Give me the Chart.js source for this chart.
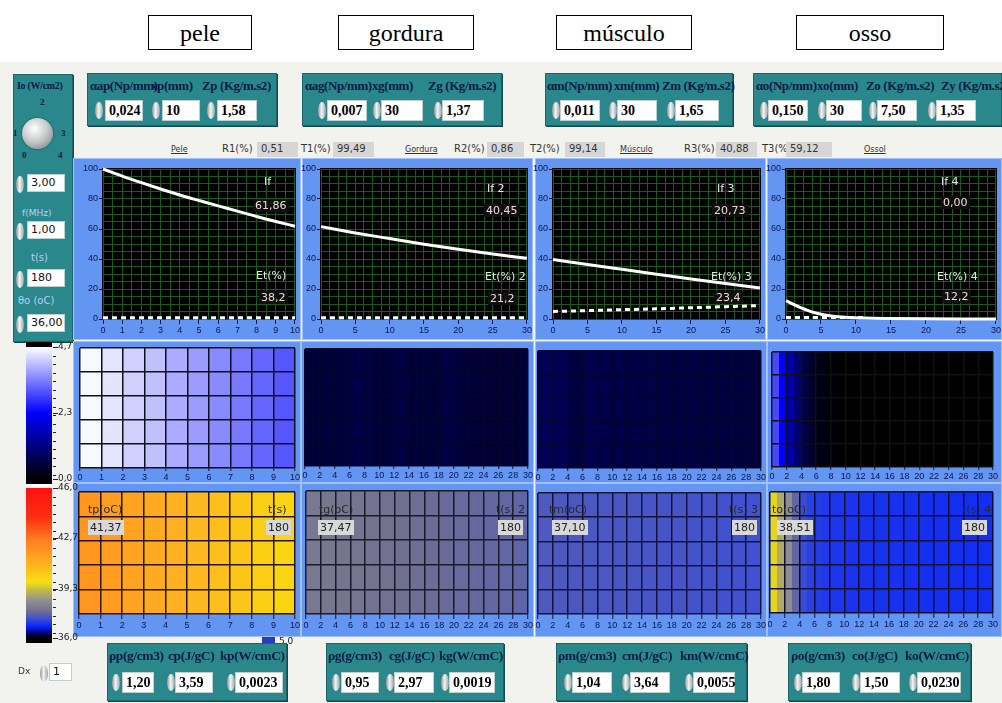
<!DOCTYPE html>
<html lang="pt">
<head>
<meta charset="utf-8">
<title>Ultrassom em camadas</title>
<script src="https://cdn.jsdelivr.net/npm/chart.js@4.4.1/dist/chart.umd.min.js"></script>
<style>
  body { margin: 0; background: #fff; }
  #painel { position: relative; width: 1002px; height: 703px; overflow: hidden; font-family: "DejaVu Sans", sans-serif; }
  #painel > * { position: absolute; }
  .titulo { top: 15px; height: 34px; border: 1px solid #000; background: #fff; font: 24px "Liberation Serif", serif; text-align: center; line-height: 34px; box-sizing: border-box; }
  .teal { background: #2a888d; border: 1px solid #1b6468; box-shadow: 1px 1px 0 #0f4a4d; box-sizing: border-box; }
  .rot { font: bold 13px "Liberation Serif", serif; color: #0b1a45; white-space: nowrap; letter-spacing: -0.4px; }
  .num { background: #fff; border: 1px solid #bcd0d0; font: bold 14px "Liberation Serif", serif; color: #000; padding-left: 3px; box-sizing: border-box; line-height: 19px; height: 21px; }
  .numS { background: #fff; border: 1px solid #bcd0d0; font: 11px "DejaVu Sans", sans-serif; color: #111; padding-left: 3px; box-sizing: border-box; line-height: 16px; height: 18px; }
  .spin { width: 8px; height: 17px; border-radius: 50%; background: linear-gradient(90deg, #8e9696, #f2f4f4 45%, #9aa2a2); }
  .quadro { background: #6396f2; box-sizing: border-box; border: 1px solid #a3c0fa; }
  .txtG { font: 11px "DejaVu Sans", sans-serif; color: #e6e6e6; white-space: nowrap; }
  .valG { font: 11px "DejaVu Sans", sans-serif; color: #f0dada; background: #101010; padding: 0 2px; white-space: nowrap; }
  .txtT { font: 11px "DejaVu Sans", sans-serif; color: #2a2a2a; white-space: nowrap; }
  .valT { font: 11px "DejaVu Sans", sans-serif; color: #222; background: #d8d8d8; padding: 1px 2px; white-space: nowrap; }
  .linha { font: 10px "DejaVu Sans", sans-serif; color: #333; white-space: nowrap; }
  .caixa { font: 10px "DejaVu Sans", sans-serif; color: #333; background: #d6d6d6; height: 14px; line-height: 14px; padding-left: 4px; box-sizing: border-box; }
  .sub { font: 8px "DejaVu Sans", sans-serif; color: #333; text-decoration: underline; }
  .esc { font: 9px "DejaVu Sans", sans-serif; color: #222; }
</style>
</head>
<body>
<div id="painel"></div>
<script>
// ---------- valores ----------
// curvas If (linha cheia) e Et (tracejada), em %
const xPele = [0, 1, 2, 3, 4, 5, 6, 7, 8, 9, 10];
const ifPele = [100, 95.3, 90.9, 86.7, 82.7, 79, 75.4, 71.9, 68.3, 65, 61.86];
const etPele = [0.8, 0.8, 0.8, 0.8, 0.8, 0.8, 0.8, 0.8, 0.8, 0.8, 0.8];

const xCamada = [0, 5, 10, 15, 20, 25, 30];
const ifGordura = [61.6, 57.4, 53.6, 49.9, 46.5, 43.3, 40.45];
const etGordura = [0.8, 0.8, 0.8, 0.8, 0.8, 0.8, 0.8];
const ifMusculo = [39.7, 36.3, 33.1, 29.9, 26.7, 23.7, 20.73];
const etMusculo = [5, 5.6, 6.2, 6.8, 7.5, 8.2, 9];

const xOsso = [0, 1, 2, 3, 4, 5, 6, 7, 8, 9, 10, 11, 15, 20, 25, 30];
const ifOsso = [12.2, 9.9, 7.8, 5.9, 4.3, 3.2, 2.3, 1.7, 1.3, 1, 0.8, 0.6, 0.3, 0.1, 0, 0];
const etOsso = [1, 1, 1, 1, 1, 1, 1, 1, 1, 1, 1, 1, null, null, null, null];

// intensidade (W/cm2) por coluna dos mapas do meio
const intPele = [4.64, 4.45, 4.27, 4.12, 3.93, 3.79, 3.62, 3.46, 3.28, 3.14];
const intGordura = [0.52, 0.5, 0.52, 0.54, 0.52, 0.54, 0.64, 0.66, 0.62, 0.52, 0.5, 0.52, 0.6, 0.62, 0.52,
                    0.5, 0.52, 0.5, 0.6, 0.62, 0.58, 0.52, 0.5, 0.48, 0.5, 0.48, 0.47, 0.48, 0.46, 0.47];
const intMusculo = [0.8, 0.8, 0.78, 0.76, 0.6, 0.56, 0.7, 0.7, 0.68, 0.68, 0.66, 0.66, 0.65, 0.65, 0.64,
                    0.64, 0.63, 0.6, 0.58, 0.63, 0.62, 0.6, 0.59, 0.59, 0.58, 0.58, 0.56, 0.56, 0.55, 0.55];
const intOsso = [3.0, 2.35, 1.6, 1.05, 0.65, 0.4, 0.22, 0.12, 0.06, 0.03, 0.02, 0.01, 0, 0, 0,
                 0, 0, 0, 0, 0, 0, 0, 0, 0, 0, 0, 0, 0, 0, 0];

// temperatura (oC) por coluna dos mapas de baixo
const tempPele = [41.8, 41.6, 41.4, 41.2, 41.0, 40.8, 40.6, 40.4, 40.2, 40.0];
const tempGordura = [37.98, 37.97, 37.96, 37.95, 37.94, 37.92, 37.91, 37.9, 37.88, 37.87, 37.85, 37.84, 37.82, 37.81, 37.79,
                     37.78, 37.76, 37.75, 37.74, 37.72, 37.71, 37.7, 37.69, 37.68, 37.67, 37.66, 37.65, 37.64, 37.63, 37.62];
const tempMusculo = [37.45, 37.45, 37.44, 37.44, 37.43, 37.43, 37.42, 37.42, 37.41, 37.41, 37.4, 37.4, 37.39, 37.39, 37.38,
                     37.38, 37.37, 37.37, 37.36, 37.36, 37.35, 37.35, 37.34, 37.34, 37.33, 37.33, 37.32, 37.32, 37.31, 37.3];
const tempOsso = [39.55, 38.95, 38.45, 37.65, 37.25, 37.1, 37.05, 37.0, 36.98, 36.96, 36.95, 36.94, 36.93, 36.93, 36.92,
                  36.92, 36.91, 36.91, 36.9, 36.9, 36.9, 36.89, 36.89, 36.89, 36.88, 36.88, 36.88, 36.87, 36.87, 36.87];

// rótulos das barras de cor
const escalaInt = [[4.7, '4,7'], [2.35, '2,3'], [0, '0,0']];
const escalaTemp = [[46, '46,0'], [42.7, '42,7'], [39.3, '39,3'], [36, '36,0']];

// ---------- mapas de cor ----------
const paradasInt = [[0, '#000000'], [2.35, '#0000ff'], [4.7, '#ffffff']];
const paradasTemp = [[36, '#000000'], [36.3, '#000060'], [36.7, '#0020ff'], [37.3, '#4050d0'], [37.8, '#707090'],
                     [38.5, '#909090'], [39.3, '#c8c040'], [39.7, '#f8e010'], [41, '#ffb020'], [42.5, '#ff8020'],
                     [44, '#ff3010'], [46, '#ff1010']];

function hexRgb(h) {
    return [parseInt(h.slice(1, 3), 16), parseInt(h.slice(3, 5), 16), parseInt(h.slice(5, 7), 16)];
}

function corMapa(paradas, v) {
    if (v <= paradas[0][0]) return paradas[0][1];
    for (let i = 1; i < paradas.length; i++) {
        if (v <= paradas[i][0]) {
            const t = (v - paradas[i - 1][0]) / (paradas[i][0] - paradas[i - 1][0]);
            const a = hexRgb(paradas[i - 1][1]), b = hexRgb(paradas[i][1]);
            const c = a.map((x, k) => Math.round(x + (b[k] - x) * t));
            return `rgb(${c[0]},${c[1]},${c[2]})`;
        }
    }
    return paradas[paradas.length - 1][1];
}

// ---------- utilidades de layout ----------
const painel = document.getElementById('painel');

function add(tag, cls, css, texto) {
    const e = document.createElement(tag);
    if (cls) e.className = cls;
    e.style.cssText = css;
    if (texto !== undefined) e.textContent = texto;
    painel.appendChild(e);
    return e;
}

function px(x, y, w, h) {
    return `left:${x}px;top:${y}px;` + (w ? `width:${w}px;` : '') + (h ? `height:${h}px;` : '');
}

function numerico(xs, xb, y, w, txt, cls) {
    add('div', 'spin', px(xs, y + 2, 8, 17));
    add('div', cls || 'num', px(xb, y, w, 0), txt);
}

// fundo do painel (LabVIEW)
add('div', '', px(0, 62, 1002, 641) + 'background:#f2f2ef;');

// caixas de título
add('div', 'titulo', px(148, 15, 104, 35), 'pele');
add('div', 'titulo', px(338, 15, 136, 35), 'gordura');
add('div', 'titulo', px(556, 15, 136, 35), 'músculo');
add('div', 'titulo', px(796, 15, 148, 35), 'osso');

// ---------- controles superiores ----------
const paineisTopo = [
    { x: 87, w: 190, rot: [['αap(Np/mm)', 90], ['xp(mm)', 151], ['Zp (Kg/m.s2)', 202]],
      num: [[95, 105, 38, '0,024'], [152, 162, 38, '10'], [207, 217, 40, '1,58']] },
    { x: 302, w: 200, rot: [['αag(Np/mm)', 305], ['xg(mm)', 372], ['Zg (Kg/m.s2)', 428]],
      num: [[318, 327, 40, '0,007'], [373, 381, 42, '30'], [434, 442, 42, '1,37']] },
    { x: 545, w: 188, rot: [['αm(Np/mm)', 547], ['xm(mm)', 614], ['Zm (Kg/m.s2)', 662]],
      num: [[552, 560, 40, '0,011'], [609, 617, 40, '30'], [667, 675, 44, '1,65']] },
    { x: 753, w: 249, rot: [['αo(Np/mm)', 756], ['xo(mm)', 817], ['Zo (Kg/m.s2)', 866], ['Zy (Kg/m.s2)', 941]],
      num: [[760, 768, 40, '0,150'], [818, 826, 36, '30'], [869, 877, 40, '7,50'], [928, 936, 40, '1,35']] }
];
paineisTopo.forEach(p => {
    add('div', 'teal', px(p.x, 73, p.w, 53));
    p.rot.forEach(([t, x]) => add('div', 'rot', px(x, 78), t));
    p.num.forEach(([xs, xb, w, t]) => numerico(xs, xb, 100, w, t));
});

// painel da esquerda (Io, f, t, θo)
add('div', 'teal', px(13, 74, 60, 268));
add('div', 'rot', px(17, 80) + 'font-size:10px;letter-spacing:-0.3px;', 'Io (W/cm2)');
[['0', 22, 150], ['1', 13, 128], ['2', 40, 97], ['3', 61, 128], ['4', 58, 150]].forEach(([t, x, y]) =>
    add('div', 'rot', px(x, y) + 'font-size:9px;', t));
add('div', '', px(22, 118, 31, 31) + 'border-radius:50%;background:radial-gradient(circle at 40% 35%,#ffffff,#c8cccc 45%,#6f7878);box-shadow:0 0 2px #0b3b3e;');
numerico(16, 27, 174, 38, '3,00', 'numS');
add('div', 'linha', px(22, 208) + 'color:#b8d0f0;font-size:9px;', 'f(MHz)');
numerico(16, 27, 221, 38, '1,00', 'numS');
add('div', 'linha', px(31, 252) + 'color:#b8d0f0;', 't(s)');
numerico(16, 27, 269, 38, '180', 'numS');
add('div', 'linha', px(18, 295) + 'color:#b8d0f0;', 'θo  (oC)');
numerico(16, 27, 314, 38, '36,00', 'numS');

// linha de reflexão / transmissão
add('div', 'sub', px(171, 145), 'Pele');
add('div', 'linha', px(222, 143), 'R1(%)');
add('div', 'caixa', px(257, 142, 41, 15), '0,51');
add('div', 'linha', px(301, 143), 'T1(%)');
add('div', 'caixa', px(333, 142, 41, 15), '99,49');
add('div', 'sub', px(405, 145), 'Gordura');
add('div', 'linha', px(454, 143), 'R2(%)');
add('div', 'caixa', px(487, 142, 37, 15), '0,86');
add('div', 'linha', px(530, 143), 'T2(%)');
add('div', 'caixa', px(565, 142, 40, 15), '99,14');
add('div', 'sub', px(620, 145), 'Músculo');
add('div', 'linha', px(684, 143), 'R3(%)');
add('div', 'caixa', px(716, 142, 41, 15), '40,88');
add('div', 'linha', px(762, 143), 'T3(%)');
add('div', 'caixa', px(786, 142, 46, 15), '59,12');
add('div', 'sub', px(864, 145), 'Ossol');

// ---------- gráficos (Chart.js) ----------
const fonteEixo = { family: 'Liberation Sans', size: 9 };
const corEixo = '#0b1450';

const fundoPreto = {
    id: 'fundoPreto',
    beforeDraw(chart) {
        const { ctx, chartArea: a } = chart;
        ctx.save();
        ctx.fillStyle = '#000';
        ctx.fillRect(a.left - 1, a.top - 1, a.width + 2, a.height + 2);
        ctx.restore();
    }
};

function passos(max, passo) {
    const lista = [];
    for (let v = 0; v <= max + 1e-9; v += passo) lista.push({ value: Math.round(v * 1000) / 1000 });
    return lista;
}

const multiplo = (v, m) => Math.abs(v / m - Math.round(v / m)) < 1e-6;

function novoCanvas(q, extra) {
    const cv = add('canvas', '', px(q.x - extra, q.y, q.w + extra, q.h));
    cv.width = q.w + extra;
    cv.height = q.h;
    return cv;
}

// gráfico de linhas If / Et
function graficoLinha(q, p, xs, ifv, etv, xMax, passoX, rotuloX) {
    add('div', 'quadro', px(q.x, q.y, q.w, q.h));
    const extra = 6;
    const cv = novoCanvas(q, extra);
    new Chart(cv, {
        type: 'line',
        data: {
            datasets: [
                { data: xs.map((x, i) => ({ x: x, y: ifv[i] })), borderColor: '#ffffff', borderWidth: 3,
                  pointRadius: 0, tension: 0.25, cubicInterpolationMode: 'monotone', clip: false },
                { data: xs.map((x, i) => ({ x: x, y: etv[i] })), borderColor: '#ffffff', borderWidth: 3,
                  borderDash: [5, 4], pointRadius: 0, clip: false, spanGaps: false }
            ]
        },
        options: {
            responsive: false, animation: false, devicePixelRatio: 1,
            layout: { padding: { top: p.t - q.y, right: q.x + q.w - p.r, left: 0, bottom: 0 } },
            plugins: { legend: { display: false }, tooltip: { enabled: false } },
            scales: {
                x: {
                    type: 'linear', min: 0, max: xMax,
                    afterBuildTicks: ax => { ax.ticks = passos(xMax, passoX); },
                    afterFit: ax => { ax.height = q.y + q.h - p.b; },
                    border: { display: false },
                    grid: { color: '#195c19', lineWidth: 1, tickLength: 5,
                            tickColor: c => (c.tick && multiplo(c.tick.value, rotuloX)) ? corEixo : 'rgba(0,0,0,0)' },
                    ticks: { autoSkip: false, maxRotation: 0, padding: 1, color: corEixo, font: fonteEixo,
                             callback: v => multiplo(v, rotuloX) ? String(v) : '' }
                },
                y: {
                    min: 0, max: 100,
                    afterBuildTicks: ax => { ax.ticks = passos(100, 5); },
                    afterFit: ax => { ax.width = p.l - (q.x - extra); },
                    border: { display: false },
                    grid: { color: '#195c19', lineWidth: 1, tickLength: 4,
                            tickColor: c => (c.tick && multiplo(c.tick.value, 20)) ? corEixo : 'rgba(0,0,0,0)' },
                    ticks: { autoSkip: false, padding: 1, color: corEixo, font: fonteEixo,
                             callback: v => multiplo(v, 20) ? String(v) : '' }
                }
            }
        },
        plugins: [fundoPreto]
    });
}

// mapa de cor por coluna (barras flutuantes ocupando as 5 linhas)
function mapaCalor(q, p, vals, xMax, passoX, paradas, corGrade, tickLen) {
    add('div', 'quadro', px(q.x, q.y, q.w, q.h));
    const extra = 4;
    const cv = novoCanvas(q, extra);
    const largura = xMax / vals.length;
    new Chart(cv, {
        type: 'bar',
        data: {
            datasets: [{
                data: vals.map((v, i) => ({ x: (i + 0.5) * largura, y: [0, 5] })),
                backgroundColor: vals.map(v => corMapa(paradas, v)),
                borderWidth: 0, barPercentage: 1, categoryPercentage: 1
            }]
        },
        options: {
            responsive: false, animation: false, devicePixelRatio: 1,
            layout: { padding: { top: p.t - q.y, right: q.x + q.w - p.r, left: 0, bottom: 0 } },
            plugins: { legend: { display: false }, tooltip: { enabled: false } },
            scales: {
                x: {
                    type: 'linear', min: 0, max: xMax, offset: false,
                    afterBuildTicks: ax => { ax.ticks = passos(xMax, passoX); },
                    afterFit: ax => { ax.height = q.y + q.h - p.b; },
                    border: { display: false },
                    grid: { offset: false, z: 1, color: corGrade, lineWidth: 1.5, tickLength: tickLen, tickColor: corEixo, tickWidth: 1 },
                    ticks: { autoSkip: false, maxRotation: 0, padding: 1, color: corEixo, font: fonteEixo }
                },
                y: {
                    min: 0, max: 5,
                    afterBuildTicks: ax => { ax.ticks = passos(5, 1); },
                    afterFit: ax => { ax.width = p.l - (q.x - extra); },
                    border: { display: false },
                    grid: { z: 1, color: corGrade, lineWidth: 1.5, drawTicks: false },
                    ticks: { display: false }
                }
            }
        }
    });
}

// linha de cima: If / Et
graficoLinha({ x: 73, y: 158, w: 228, h: 182 }, { l: 103, t: 169, r: 295, b: 319 }, xPele, ifPele, etPele, 10, 0.5, 1);
graficoLinha({ x: 302, y: 158, w: 231, h: 182 }, { l: 321, t: 169, r: 528, b: 319 }, xCamada, ifGordura, etGordura, 30, 1.25, 5);
graficoLinha({ x: 535, y: 158, w: 231, h: 182 }, { l: 553, t: 169, r: 760, b: 319 }, xCamada, ifMusculo, etMusculo, 30, 1.25, 5);
graficoLinha({ x: 767, y: 158, w: 235, h: 182 }, { l: 786, t: 169, r: 998, b: 319 }, xOsso, ifOsso, etOsso, 30, 1.25, 5);

// linha do meio: intensidade
mapaCalor({ x: 73, y: 341, w: 228, h: 142 }, { l: 80, t: 348, r: 296, b: 468 }, intPele, 10, 1, paradasInt, '#101018', 3);
mapaCalor({ x: 301, y: 341, w: 233, h: 142 }, { l: 305, t: 349, r: 531, b: 466 }, intGordura, 30, 2, paradasInt, '#05052a', 3);
mapaCalor({ x: 535, y: 341, w: 232, h: 142 }, { l: 538, t: 351, r: 763, b: 468 }, intMusculo, 30, 2, paradasInt, '#05052a', 3);
mapaCalor({ x: 767, y: 341, w: 235, h: 142 }, { l: 772, t: 352, r: 993, b: 467 }, intOsso, 30, 2, paradasInt, '#101010', 3);

// linha de baixo: temperatura
mapaCalor({ x: 73, y: 483, w: 228, h: 154 }, { l: 79, t: 492, r: 297, b: 614 }, tempPele, 10, 1, paradasTemp, '#2a1606', 5);
mapaCalor({ x: 301, y: 483, w: 233, h: 154 }, { l: 306, t: 491, r: 530, b: 614 }, tempGordura, 30, 2, paradasTemp, '#1a1a2a', 5);
mapaCalor({ x: 535, y: 483, w: 232, h: 154 }, { l: 538, t: 493, r: 763, b: 614 }, tempMusculo, 30, 2, paradasTemp, '#14143a', 5);
mapaCalor({ x: 767, y: 483, w: 235, h: 154 }, { l: 770, t: 492, r: 993, b: 613 }, tempOsso, 30, 2, paradasTemp, '#101030', 5);

// ---------- textos sobre os gráficos ----------
[['If', 264, 175, 'txtG'], ['61,86', 253, 199, 'valG'], ['Et(%)', 256, 269, 'txtG'], ['38,2', 259, 291, 'valG'],
 ['If 2', 487, 182, 'txtG'], ['40,45', 484, 204, 'valG'], ['Et(%) 2', 485, 270, 'txtG'], ['21,2', 488, 292, 'valG'],
 ['If 3', 717, 182, 'txtG'], ['20,73', 712, 204, 'valG'], ['Et(%) 3', 711, 270, 'txtG'], ['23,4', 714, 291, 'valG'],
 ['If 4', 941, 175, 'txtG'], ['0,00', 941, 196, 'valG'], ['Et(%) 4', 937, 270, 'txtG'], ['12,2', 942, 290, 'valG']
].forEach(([t, x, y, c]) => add('div', c, px(x, y), t));

[['tp(oC)', 88, 503, 'txtT'], ['41,37', 88, 520, 'valT'], ['t(s)', 268, 503, 'txtT'], ['180', 266, 520, 'valT'],
 ['tg(oC)', 319, 503, 'txtT'], ['37,47', 318, 520, 'valT'], ['t(s) 2', 496, 503, 'txtT'], ['180', 498, 520, 'valT'],
 ['tm(oC)', 549, 503, 'txtT'], ['37,10', 552, 520, 'valT'], ['t(s) 3', 729, 503, 'txtT'], ['180', 732, 520, 'valT'],
 ['to(oC)', 772, 503, 'txtT'], ['38,51', 777, 520, 'valT'], ['t(s) 4', 962, 503, 'txtT'], ['180', 962, 520, 'valT']
].forEach(([t, x, y, c]) => add('div', c, px(x, y), t));

// ---------- barras de cor ----------
function gradiente(paradas, vTopo, vBase) {
    const partes = [];
    for (let i = 0; i <= 40; i++) {
        const v = vTopo + (vBase - vTopo) * i / 40;
        partes.push(`${corMapa(paradas, v)} ${(i * 2.5).toFixed(1)}%`);
    }
    return `linear-gradient(180deg, ${partes.join(',')})`;
}

function barraCor(x, yTopo, yBase, vTopo, vBase, paradas, rotulos) {
    add('div', '', px(x, yTopo, 26, yBase - yTopo) + `background:${gradiente(paradas, vTopo, vBase)};`);
    const escala = (yBase - yTopo) / (vTopo - vBase);
    for (let y = yTopo; y <= yBase; y += 8.5) add('div', '', px(x + 27, Math.round(y), 3, 1) + 'background:#222;');
    rotulos.forEach(([v, t]) => {
        const y = yTopo + (vTopo - v) * escala;
        add('div', '', px(x + 27, Math.round(y), 5, 1) + 'background:#222;');
        add('div', 'esc', px(x + 32, Math.round(y) - 6), t);
    });
}

add('div', '', px(26, 342, 26, 5) + 'background:#000;');
barraCor(26, 347, 479, 4.7, 0, paradasInt, escalaInt);
add('div', '', px(26, 479, 26, 5) + 'background:#000;');
add('div', '', px(26, 484, 26, 4) + 'background:#fff;');
barraCor(26, 488, 638, 46, 36, paradasTemp, escalaTemp);
add('div', '', px(26, 638, 26, 5) + 'background:#000;');

// controle Dx e cursor
add('div', 'linha', px(18, 666) + 'font-size:9px;', 'Dx');
numerico(40, 49, 663, 23, '1', 'numS');
add('div', '', px(262, 637, 13, 7) + 'background:#2a3ab8;');
add('div', 'esc', px(279, 636), '5,0');

// ---------- controles inferiores ----------
const paineisBase = [
    { x: 107, w: 180, rot: [['ρp(g/cm3)', 109], ['cp(J/gC)', 168], ['kp(W/cmC)', 220]],
      num: [[112, 122, 32, '1,20'], [167, 175, 38, '3,59'], [227, 235, 48, '0,0023']] },
    { x: 326, w: 178, rot: [['ρg(g/cm3)', 328], ['cg(J/gC)', 389], ['kg(W/cmC)', 439]],
      num: [[332, 341, 38, '0,95'], [386, 394, 40, '2,97'], [441, 449, 46, '0,0019']] },
    { x: 556, w: 191, rot: [['ρm(g/cm3)', 558], ['cm(J/gC)', 622], ['km(W/cmC)', 680]],
      num: [[564, 572, 40, '1,04'], [622, 630, 40, '3,64'], [685, 693, 42, '0,0055']] },
    { x: 788, w: 183, rot: [['ρo(g/cm3)', 791], ['co(J/gC)', 852], ['ko(W/cmC)', 905]],
      num: [[794, 802, 38, '1,80'], [852, 860, 40, '1,50'], [909, 917, 44, '0,0230']] }
];
paineisBase.forEach(p => {
    add('div', 'teal', px(p.x, 643, p.w, 58));
    p.rot.forEach(([t, x]) => add('div', 'rot', px(x, 648) + 'font-size:13.5px;', t));
    p.num.forEach(([xs, xb, w, t]) => numerico(xs, xb, 672, w, t));
});
</script>
</body>
</html>
